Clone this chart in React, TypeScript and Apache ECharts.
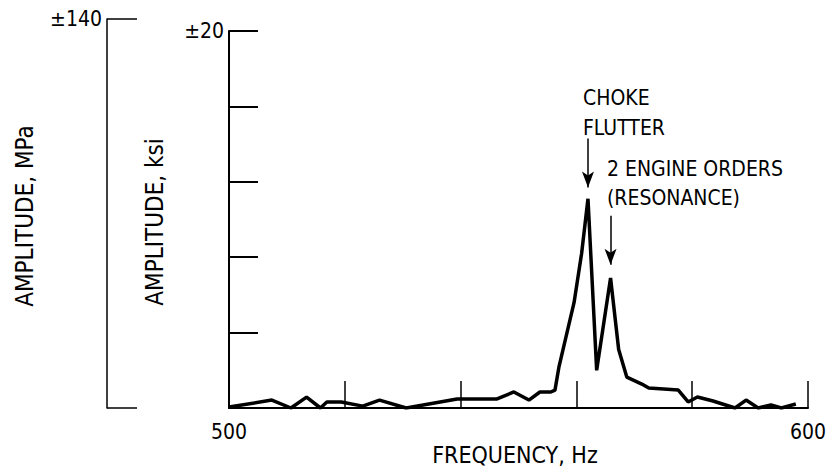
import React, { useEffect, useRef } from 'react';
import * as echarts from 'echarts';

// Frequency (Hz) and amplitude (ksi)
const freqHz = [
  500.0, 507.4, 510.7, 513.4, 515.8, 516.9, 519.4, 523.1, 526.0, 530.6,
  539.4, 546.3, 549.2, 551.8, 553.7, 555.6, 556.3, 557.0, 559.6, 560.9,
  562.0, 563.5, 565.9, 567.3, 568.7, 571.3, 572.5, 577.6, 579.3, 580.9,
  583.6, 587.4, 589.3, 591.4, 593.6, 595.4, 597.9,
];
const amplitudeKsi = [
  0.05, 0.42, 0.0, 0.58, 0.0, 0.32, 0.32, 0.1, 0.42, 0.0,
  0.48, 0.48, 0.85, 0.42, 0.85, 0.85, 0.95, 2.2, 5.6, 8.2,
  11.1, 2.0, 6.9, 3.1, 1.64, 1.27, 1.06, 0.95, 0.32, 0.58,
  0.37, 0.0, 0.42, 0.0, 0.16, 0.0, 0.21,
];

const xTickLabels = [500, 600];
const ksiMax = 20;
const mpaMax = 140;

// annotation arrows: [freq, fromKsi, toKsi]
const chokeArrow = [562.0, 14.3, 11.7];
const engineArrow = [565.9, 10.2, 7.6];

const FONT = "'DejaVu Sans Condensed', 'Liberation Sans Narrow', sans-serif";

export default function App() {
  const ref = useRef<HTMLDivElement>(null);
  useEffect(() => {
    if (!ref.current) return;
    const chart = echarts.init(ref.current, undefined, { renderer: 'svg' });
    const data = freqHz.map((f, i) => [f, amplitudeKsi[i]]);
    const txt = (text: string, x: number, y: number, rot = 0, align = 'left', size = 21) => ({
      type: 'text',
      x,
      y,
      rotation: rot,
      style: {
        text,
        fill: '#000',
        fontSize: size,
        fontFamily: FONT,
        align,
        verticalAlign: 'middle',
      },
    });
    chart.setOption({
      animation: false,
      backgroundColor: '#fff',
      grid: [
        { left: 229, right: 27, top: 31, bottom: 68 },
        { left: 107, top: 19, width: 31, bottom: 68 },
      ],
      xAxis: [
        {
          type: 'value',
          gridIndex: 0,
          min: 500,
          max: 600,
          interval: 20,
          axisLine: { lineStyle: { color: '#000', width: 2 } },
          axisTick: { inside: true, length: 27, lineStyle: { color: '#000', width: 1.5 } },
          splitLine: { show: false },
          axisLabel: {
            formatter: (v: number) => (xTickLabels.includes(v) ? String(v) : ''),
            color: '#000',
            fontSize: 21,
            fontFamily: FONT,
            margin: 13,
          },
        },
        { type: 'value', gridIndex: 1, min: 0, max: 1, show: false },
      ],
      yAxis: [
        {
          type: 'value',
          gridIndex: 0,
          min: 0,
          max: ksiMax,
          interval: 4,
          axisLine: { show: true, lineStyle: { color: '#000', width: 2 } },
          axisTick: { show: true, inside: true, length: 29, lineStyle: { color: '#000', width: 2 } },
          splitLine: { show: false },
          axisLabel: {
            formatter: (v: number) => (v === ksiMax ? '±' + ksiMax : ''),
            color: '#000',
            fontSize: 21,
            fontFamily: FONT,
            margin: 5,
          },
        },
        {
          type: 'value',
          gridIndex: 1,
          min: 0,
          max: mpaMax,
          interval: mpaMax,
          axisLine: { show: true, lineStyle: { color: '#000', width: 1.5 } },
          axisTick: { show: true, inside: true, length: 30, lineStyle: { color: '#000', width: 1.5 } },
          splitLine: { show: false },
          axisLabel: {
            formatter: (v: number) => (v === mpaMax ? '±' + mpaMax : ''),
            color: '#000',
            fontSize: 21,
            fontFamily: FONT,
            margin: 5,
          },
        },
      ],
      series: [
        {
          type: 'line',
          xAxisIndex: 0,
          yAxisIndex: 0,
          data,
          symbol: 'none',
          lineStyle: { color: '#000', width: 3.5 },
          markLine: {
            silent: true,
            symbol: ['none', 'arrow'],
            symbolSize: [9, 16],
            lineStyle: { color: '#000', width: 1.5, type: 'solid' },
            label: { show: false },
            emphasis: { disabled: true },
            data: [
              [
                { coord: [chokeArrow[0], chokeArrow[1]] },
                { coord: [chokeArrow[0], chokeArrow[2]] },
              ],
              [
                { coord: [engineArrow[0], engineArrow[1]] },
                { coord: [engineArrow[0], engineArrow[2]] },
              ],
            ],
          },
        },
      ],
      graphic: [
        txt('AMPLITUDE, MPa', 25, 216, Math.PI / 2, 'center', 24),
        txt('AMPLITUDE, ksi', 155, 222, Math.PI / 2, 'center', 24),
        txt('FREQUENCY, Hz', 515, 455, 0, 'center', 23),
        txt('CHOKE', 583, 98),
        txt('FLUTTER', 583, 128),
        txt('2 ENGINE ORDERS', 607, 169),
        txt('(RESONANCE)', 607, 198),
      ],
    });
    return () => chart.dispose();
  }, []);
  return (
    <div
      ref={ref}
      style={{ position: 'absolute', left: 0, top: 0, width: 835, height: 476 }}
    />
  );
}
